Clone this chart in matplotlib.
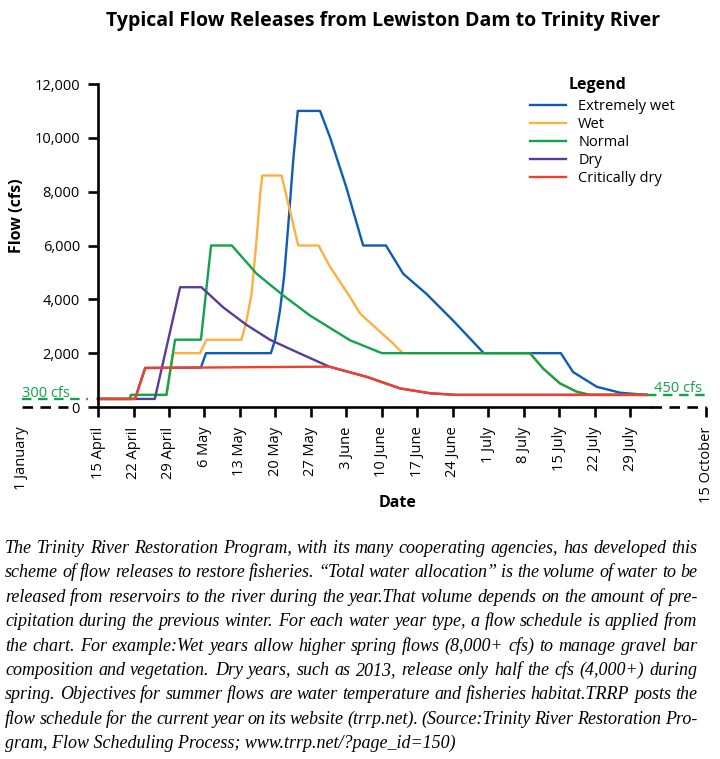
import matplotlib
matplotlib.use('Agg')
import matplotlib.pyplot as plt
from matplotlib.ticker import FuncFormatter

plt.rcParams['font.family'] = ['Open Sans', 'DejaVu Sans']

# days counted from 15 April; 1 January and 15 October sit on the broken ends of the axis
tick_labels = ['1 January', '15 April', '22 April', '29 April', '6 May', '13 May', '20 May',
               '27 May', '3 June', '10 June', '17 June', '24 June', '1 July', '8 July',
               '15 July', '22 July', '29 July', '15 October']
jan_pos = -15
oct_pos = 120
tick_pos = [jan_pos] + list(range(0, 106, 7)) + [oct_pos]
axis_end = 109

ext_wet_day = [0, 7.3, 9.3, 20.3, 21.3, 34.1, 34.9, 35.9, 36.7, 37.5, 38.5, 39.4, 43.8, 45.8,
               49.0, 52.3, 56.8, 60.2, 64.8, 70.1, 76.1, 91.3, 93.7, 98.4, 103.0, 108.2]
ext_wet_cfs = [300, 300, 1450, 1465, 2000, 2000, 2480, 3590, 4830, 6680, 9150, 11000, 11000, 10000,
               8150, 6000, 6000, 4950, 4200, 3200, 2000, 2000, 1300, 750, 530, 450]

wet_day = [0, 6.2, 6.5, 13.5, 14.8, 20.1, 21.4, 28.3, 29.3, 30.3, 31.2, 32.0, 32.4, 36.2,
           39.5, 43.5, 45.8, 49.7, 51.7, 58.2, 60.1, 85.2, 87.8, 91.1, 94.4, 97.0, 108.2]
wet_cfs = [300, 300, 450, 450, 2000, 2000, 2500, 2500, 3220, 4210, 6060, 7920, 8600, 8600,
           6000, 6000, 5200, 4090, 3470, 2360, 2000, 2000, 1430, 880, 570, 450, 450]

normal_day = [0, 6.2, 6.5, 13.5, 15.2, 20.3, 22.3, 26.4, 31.3, 36.5, 41.8, 49.7, 56.0,
              85.2, 87.8, 91.1, 94.4, 97.0, 108.2]
normal_cfs = [300, 300, 450, 450, 2500, 2500, 6000, 6000, 4950, 4150, 3400, 2480, 2000,
              2000, 1430, 880, 570, 450, 450]

dry_day = [0, 11.2, 16.2, 20.4, 24.7, 29.3, 33.9, 39.8, 45.6, 53.0, 59.6, 65.5, 70.7, 108.2]
dry_cfs = [300, 300, 4450, 4450, 3700, 3050, 2500, 1990, 1500, 1120, 690, 510, 450, 450]

crit_day = [0, 7.3, 9.3, 45.6, 53.0, 59.6, 65.5, 70.7, 108.2]
crit_cfs = [300, 300, 1450, 1500, 1120, 690, 510, 450, 450]

series_names = ['Extremely wet', 'Wet', 'Normal', 'Dry', 'Critically dry']
colors = ['#0c5db3', '#fbb040', '#13a24b', '#5c3b98', '#f1402a']

caption_lines = [
    'The Trinity River Restoration Program, with its many cooperating agencies, has developed this',
    'scheme of flow releases to restore fisheries. \u201cTotal water allocation\u201d is the volume of water to be',
    'released from reservoirs to the river during the year.That volume depends on the amount of pre-',
    'cipitation during the previous winter. For each water year type, a flow schedule is applied from',
    'the chart. For example:Wet years allow higher spring flows (8,000+ cfs) to manage gravel bar',
    'composition and vegetation. Dry years, such as 2013, release only half the cfs (4,000+) during',
    'spring. Objectives for summer flows are water temperature and fisheries habitat.TRRP posts the',
    'flow schedule for the current year on its website (trrp.net). (Source:Trinity River Restoration Pro-',
    'gram, Flow Scheduling Process; www.trrp.net/?page_id=150)',
]

W, H = 720, 759
fig = plt.figure(figsize=(W / 100, H / 100), dpi=100)
ax = fig.add_axes([16.9 / W, 1 - 407 / H, 699.6 / W, 323 / H])
ax.set_xlim(-16, 122)
ax.set_ylim(0, 12000)

all_days = [ext_wet_day, wet_day, normal_day, dry_day, crit_day]
all_cfs = [ext_wet_cfs, wet_cfs, normal_cfs, dry_cfs, crit_cfs]
for d, c, col, name in zip(all_days, all_cfs, colors, series_names):
    ax.plot(d, c, color=col, lw=1.7, label=name, clip_on=False)

green = colors[2]
dash = (0, (4, 2.8))
# broken-axis extensions
ax.plot([jan_pos, -6], [0, 0], color='black', lw=1.9, ls=dash, clip_on=False)
ax.plot([axis_end, oct_pos], [0, 0], color='black', lw=1.9, ls=dash, clip_on=False)
ax.plot([jan_pos, -2], [300, 300], color=green, lw=1.7, ls=dash, clip_on=False)
ax.plot([crit_day[-1], oct_pos], [450, 450], color=green, lw=1.7, ls=dash, clip_on=False)
ax.text(jan_pos, 380, '300 cfs', color=green, fontsize=10.5, ha='left', va='baseline')
ax.text(oct_pos - 0.8, 567, '450 cfs', color=green, fontsize=10.5, ha='right', va='baseline')

ax.spines['top'].set_visible(False)
ax.spines['right'].set_visible(False)
ax.spines['left'].set_position(('data', 0))
ax.spines['left'].set_linewidth(1.9)
ax.spines['bottom'].set_bounds(0, axis_end)
ax.spines['bottom'].set_linewidth(1.9)

ax.set_yticks(range(0, 12001, 2000))
ax.yaxis.set_major_formatter(FuncFormatter(lambda v, p: f'{v:,.0f}'))
ax.tick_params(axis='y', length=7, width=1.9, pad=6, labelsize=10.5)
ax.set_xticks(tick_pos, tick_labels, rotation=90)
ax.tick_params(axis='x', length=7, width=1.9, pad=7, labelsize=10.5)
ax.xaxis.get_major_ticks()[0].tick1line.set_visible(False)

ax.set_ylabel('Flow (cfs)', fontsize=11.5, fontweight='bold')
ax.yaxis.set_label_coords(8.5 / 699.6, (407 - 216) / 323)
ax.set_xlabel('Date', fontsize=11.5, fontweight='bold')
ax.xaxis.set_label_coords((398 - 16.9) / 699.6, (407 - 495) / 323)

ax.legend(loc='upper left', bbox_to_anchor=(530 / W, 1 - 99 / H),
          bbox_transform=fig.transFigure, frameon=False, fontsize=10.5,
          handlelength=2.5, handletextpad=0.8, labelspacing=0.2,
          borderpad=0, borderaxespad=0)
fig.text(598 / W, 1 - 85 / H, 'Legend', ha='center', va='center',
         fontsize=11.5, fontweight='bold')

fig.text(383.5 / W, 1 - 21 / H, 'Typical Flow Releases from Lewiston Dam to Trinity River',
         ha='center', va='center', fontsize=14, fontweight='bold')

# justified caption, placed word by word (last line left as it is)
renderer = fig.canvas.get_renderer()
cap_kw = dict(fontsize=13, style='italic', family=['Liberation Serif'], va='baseline')
x0, x1 = 5, 697
for i, line in enumerate(caption_lines):
    y = 1 - (553 + i * 24.4) / H
    if i == len(caption_lines) - 1:
        fig.text(x0 / W, y, line, **cap_kw)
        continue
    words = line.split(' ')
    arts = [fig.text(0, y, w, **cap_kw) for w in words]
    widths = [a.get_window_extent(renderer).width for a in arts]
    gap = (x1 - x0 - sum(widths)) / (len(words) - 1)
    x = x0
    for a, w in zip(arts, widths):
        a.set_x(x / W)
        x += w + gap

fig.savefig('out.png', dpi=100)
